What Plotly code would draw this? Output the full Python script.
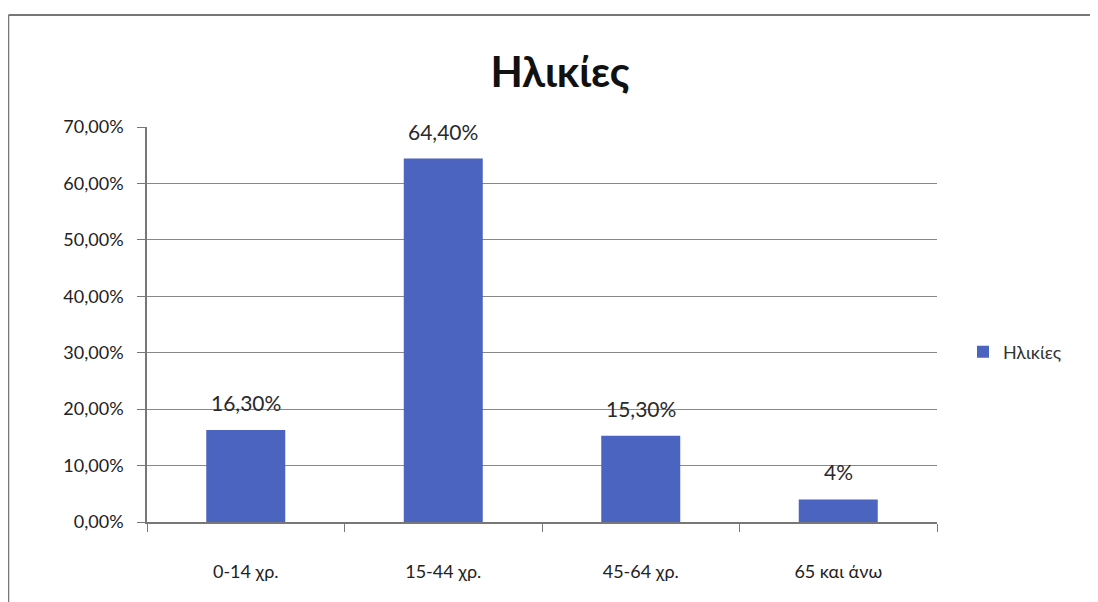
import plotly.graph_objects as go

categories = ["0-14 χρ.", "15-44 χρ.", "45-64 χρ.", "65 και άνω"]
values = [0.163, 0.644, 0.153, 0.04]
labels = ["16,30%", "64,40%", "15,30%", "4%"]
series_name = "Ηλικίες"
title_text = "Ηλικίες"

FONT = "Lato, 'Noto Sans', sans-serif"

# page has an 8px body margin; figure coordinates below compensate
L, R, T, B = 139, 169, 119, 88
W, H = 1098, 602
pw = W - L - R
ph = H - T - B

fig = go.Figure(go.Bar(
    x=categories, y=values, name=series_name,
    marker=dict(color="#4b64c0", line=dict(width=0)),
    showlegend=True,
))

for c, v, t in zip(categories, values, labels):
    fig.add_annotation(x=c, y=v, text=t, showarrow=False, yanchor="bottom",
                       yshift=13, font=dict(size=21, color="#2a2a2a", family=FONT))

top_y = (ph + T - 7) / ph
left_x = (0.5 - L) / pw

fig.update_layout(
    width=W, height=H,
    margin=dict(l=L, r=R, t=T, b=B),
    paper_bgcolor="white", plot_bgcolor="white",
    separators=",.",
    bargap=0.6,
    font=dict(family=FONT, color="#222222", size=17),
    title=dict(text="<b>" + title_text + "</b>", x=(552) / W, xref="container", xanchor="center",
               y=1 - 64 / H, yref="container", yanchor="middle",
               font=dict(size=42, color="#111111", family=FONT)),
    legend=dict(x=(955 - L) / pw, xref="paper", y=(H - B - 344) / ph, yanchor="middle", xanchor="left",
                font=dict(size=18, color="#333333"), bgcolor="rgba(0,0,0,0)", itemwidth=30),
    xaxis=dict(showline=True, linecolor="#777777", linewidth=1.5,
               ticks="outside", tickson="boundaries", ticklen=8, tickcolor="#777777",
               showgrid=False, tickfont=dict(size=18, color="#222222"),
               ticklabelstandoff=33),
    yaxis=dict(range=[0, 0.70], dtick=0.10, tickformat=".2%",
               showline=True, linecolor="#777777", linewidth=1.5,
               ticks="outside", ticklen=8, tickcolor="#777777",
               showgrid=True, gridcolor="#888888", gridwidth=1.2,
               zeroline=False, tickfont=dict(size=18, color="#222222"),
               ticklabelstandoff=10),
    shapes=[
        dict(type="line", xref="paper", yref="paper", x0=left_x, x1=(W - L) / pw,
             y0=top_y, y1=top_y, line=dict(color="#777777", width=2)),
        dict(type="line", xref="paper", yref="paper", x0=left_x, x1=left_x,
             y0=top_y, y1=-B / ph, line=dict(color="#777777", width=1.5)),
    ],
)

fig.write_html("out.html")
